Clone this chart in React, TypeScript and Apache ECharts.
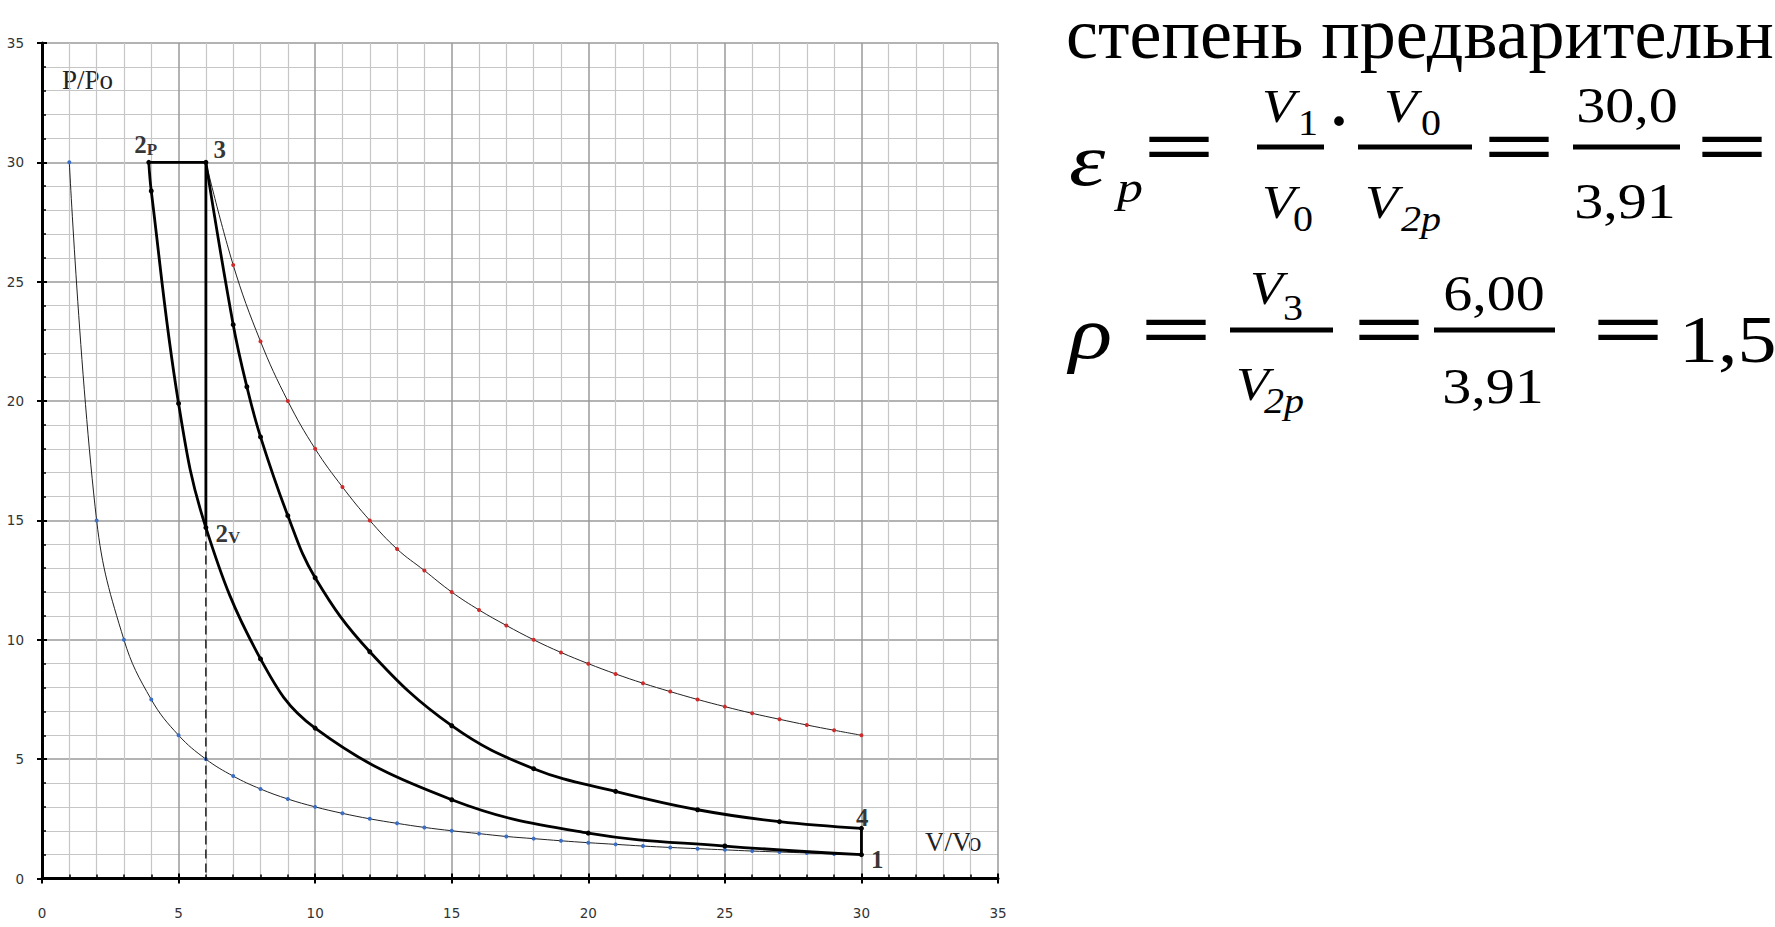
import React, { useEffect, useRef } from "react";
import * as echarts from "echarts";

// ---------- data ----------
// thin curve with blue markers (P/Po vs V/Vo)
const blueV = [1, 2, 3, 4, 5, 6, 7, 8, 9, 10, 11, 12, 13, 14, 15, 16, 17, 18, 19, 20, 21, 22, 23, 24, 25, 26, 27, 28, 29, 30];
const blueP = [30, 15, 10, 7.5, 6, 5, 4.29, 3.75, 3.33, 3, 2.73, 2.5, 2.31, 2.14, 2, 1.88, 1.76, 1.67, 1.58, 1.5, 1.43, 1.36, 1.3, 1.25, 1.2, 1.15, 1.11, 1.07, 1.03, 1];

// thin curve with red markers
const redV = [6, 7, 8, 9, 10, 11, 12, 13, 14, 15, 16, 17, 18, 19, 20, 21, 22, 23, 24, 25, 26, 27, 28, 29, 30];
const redP = [30, 25.7, 22.5, 20, 18, 16.4, 15, 13.8, 12.9, 12, 11.25, 10.6, 10, 9.47, 9, 8.57, 8.18, 7.83, 7.5, 7.2, 6.92, 6.67, 6.43, 6.21, 6];

// thick compression curve (from 2p down to 1)
const compV = [3.91, 4, 5, 6, 8, 10, 15, 20, 25, 30];
const compP = [30, 28.8, 19.9, 14.7, 9.2, 6.3, 3.3, 1.9, 1.36, 1.0];

// thick expansion curve 3 -> 4
const expV = [6, 7, 7.5, 8, 9, 10, 12, 15, 18, 21, 24, 27, 30];
const expP = [30, 23.2, 20.6, 18.5, 15.2, 12.6, 9.5, 6.4, 4.6, 3.65, 2.88, 2.38, 2.1];

// straight cycle segments
const isobarV = [3.91, 6];
const isobarP = [30, 30];
const isochore3V = [6, 6];
const isochore3P = [30, 14.7];
const isochore41V = [30, 30];
const isochore41P = [2.1, 1];
const dashV = [6, 6];
const dashP = [14.7, 0];

// labelled cycle points
const pointNames = ["2p", "3", "2v", "4", "1"];
const pointV = [3.91, 6, 6, 30, 30];
const pointP = [30, 30, 14.7, 2.1, 1];

// axis
const axisMin = 0;
const axisMax = 35;
const axisStep = 5;

// ---------- helpers ----------
const zip = (xs: number[], ys: number[]) => xs.map((x, i) => [x, ys[i]]);
const serif = '"Liberation Serif", "Times New Roman", serif';
const sans = '"DejaVu Sans", Verdana, sans-serif';

const labelLayout: Record<string, { text: string; pos: [number, number] }> = {
  "2p": { text: "{n|2}{s|P}", pos: [-14, -17] },
  "3": { text: "{n|3}", pos: [8, -12] },
  "2v": { text: "{n|2}{s|V}", pos: [10, 6] },
  "4": { text: "{n|4}", pos: [-5, -10] },
  "1": { text: "{n|1}", pos: [10, 5] },
};

const SY = 0.87;
function txt(text: string, x: number, y: number, size: number, extra: any = {}, el: any = {}) {
  return {
    type: "text",
    x,
    y,
    silent: true,
    ...el,
    style: {
      text,
      fontSize: size,
      fontFamily: serif,
      fill: "#000",
      align: "left",
      verticalAlign: "middle",
      ...extra,
    },
  };
}
function mt(text: string, x: number, y: number, size: number, extra: any = {}, sy = SY) {
  return txt(text, x, y, size, extra, { scaleY: sy });
}
function fbar(x1: number, x2: number, y: number) {
  return { type: "rect", silent: true, shape: { x: x1, y: y - 2.5, width: x2 - x1, height: 5 }, style: { fill: "#000" } };
}
function eq(x: number, yc: number) {
  return txt("=", x, yc - 3, 88, { fontWeight: "bold" }, { scaleX: 1.45, scaleY: SY });
}
const it = { fontStyle: "italic" };

function buildOption() {
  const valueAxis = (labelMargin: number) => ({
    type: "value",
    min: axisMin,
    max: axisMax,
    interval: axisStep,
    axisLine: { show: true, onZero: false, lineStyle: { color: "#000", width: 3 } },
    axisTick: { show: true, inside: true, length: 5, lineStyle: { color: "#000", width: 2 } },
    minorTick: { show: true, splitNumber: 5, length: 4, lineStyle: { color: "#000", width: 1.5 } },
    splitLine: { show: true, lineStyle: { color: "#9a9a9a", width: 1.5 } },
    minorSplitLine: { show: true, lineStyle: { color: "#c6c6c6", width: 1.2 } },
    axisLabel: { color: "#333", fontSize: 13.5, fontFamily: sans, margin: labelMargin },
  });
  const outerTicks = (position: string) => ({
    type: "value",
    min: axisMin,
    max: axisMax,
    interval: axisStep,
    position,
    axisLine: { show: false },
    axisTick: { show: true, inside: false, length: 5, lineStyle: { color: "#000", width: 2 } },
    axisLabel: { show: false },
    splitLine: { show: false },
  });

  const thin = { color: "#222", width: 1 };
  const thick = { color: "#000", width: 2.8 };

  const graphic: any[] = [
    txt("P/Po", 62, 80, 27, { fill: "#222" }),
    txt("V/Vo", 925, 842, 27, { fill: "#222" }),
    txt("степень предварительного расширения", 1066, 34, 72),

    // row 1: eps_p = V1/V0 · V0/V2p = 30,0/3,91 =
    mt("ε", 1069, 160, 92, it, 0.8),
    mt("p", 1117, 187, 52, it),
    eq(1143, 149),
    fbar(1257, 1324, 147),
    mt("V", 1262, 106, 54, it),
    mt("1", 1298, 123, 40),
    mt("V", 1262, 202, 54, it),
    mt("0", 1293, 219, 40),
    txt("·", 1339, 121, 60, { fontWeight: "bold", align: "center" }),
    fbar(1358, 1472, 147),
    mt("V", 1384, 106, 54, it),
    mt("0", 1421, 123, 40),
    mt("V", 1365, 202, 54, it),
    mt("2p", 1401, 219, 40, it),
    eq(1483, 149),
    fbar(1573, 1680, 147),
    mt("30,0", 1627, 105, 58, { align: "center" }),
    mt("3,91", 1625, 201, 58, { align: "center" }),
    eq(1696, 149),

    // row 2: rho = V3/V2p = 6,00/3,91 = 1,5
    mt("ρ", 1069, 333, 90, it, 0.82),
    eq(1140, 332),
    fbar(1230, 1333, 330),
    mt("V", 1250, 288, 54, it),
    mt("3", 1283, 308, 40),
    mt("V", 1236, 384, 54, it),
    mt("2p", 1264, 401, 40, it),
    eq(1353, 332),
    fbar(1434, 1555, 330),
    mt("6,00", 1494, 293, 58, { align: "center" }),
    mt("3,91", 1493, 386, 58, { align: "center" }),
    eq(1592, 332),
    mt("1,5", 1679, 339, 78),
  ];

  const curve = (v: number[], p: number[], line: any, color: string, size: number, z: number) => ({
    type: "line",
    data: zip(v, p),
    smooth: 0.4,
    lineStyle: line,
    symbol: "circle",
    symbolSize: size,
    showSymbol: true,
    itemStyle: { color, borderWidth: 0 },
    z,
  });

  return {
    animation: false,
    backgroundColor: "#fff",
    grid: { left: 42, top: 43, width: 956, height: 835.5, containLabel: false },
    xAxis: [valueAxis(27), outerTicks("bottom")],
    yAxis: [valueAxis(18), outerTicks("left")],
    graphic,
    series: [
      curve(blueV, blueP, thin, "#3a6ec4", 4, 3),
      curve(redV, redP, thin, "#d02a2a", 4, 3),
      curve(compV, compP, thick, "#000", 5, 4),
      curve(expV, expP, thick, "#000", 5, 4),
      { type: "line", data: zip(isobarV, isobarP), lineStyle: thick, symbol: "none", z: 4 },
      { type: "line", data: zip(isochore3V, isochore3P), lineStyle: thick, symbol: "none", z: 4 },
      { type: "line", data: zip(isochore41V, isochore41P), lineStyle: thick, symbol: "none", z: 4 },
      { type: "line", data: zip(dashV, dashP), lineStyle: { color: "#000", width: 1.3, type: [9, 5] }, symbol: "none", z: 4 },
      {
        type: "scatter",
        symbolSize: 1,
        itemStyle: { color: "rgba(0,0,0,0)" },
        z: 6,
        data: pointNames.map((n, i) => ({
          name: n,
          value: [pointV[i], pointP[i]],
          label: {
            show: true,
            position: labelLayout[n].pos,
            align: "left",
            verticalAlign: "middle",
            formatter: labelLayout[n].text,
            rich: {
              n: { fontSize: 25, fontWeight: "bold", fontFamily: serif, color: "#000", lineHeight: 26 },
              s: { fontSize: 17, fontWeight: "bold", fontFamily: serif, color: "#000", lineHeight: 12, verticalAlign: "bottom" },
            },
          },
        })),
      },
    ],
  };
}

export default function App() {
  const ref = useRef<HTMLDivElement>(null);
  useEffect(() => {
    if (!ref.current) return;
    const chart = echarts.init(ref.current, undefined, { renderer: "svg" });
    chart.setOption(buildOption() as any);
    return () => chart.dispose();
  }, []);
  return (
    <div
      ref={ref}
      style={{ position: "fixed", left: 0, top: 0, width: 1775, height: 927, background: "#fff", overflow: "hidden" }}
    />
  );
}
